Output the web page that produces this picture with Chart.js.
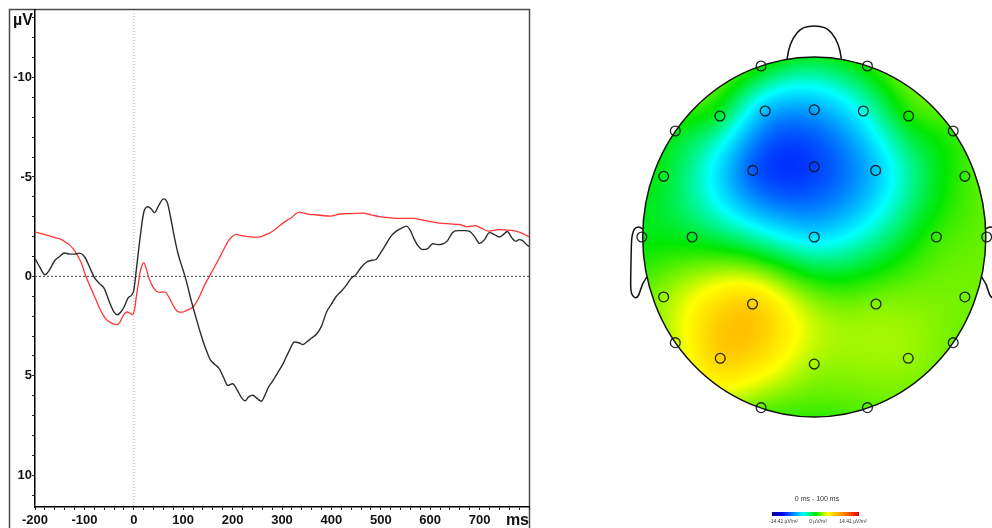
<!DOCTYPE html>
<html>
<head>
<meta charset="utf-8">
<script src="https://cdn.jsdelivr.net/npm/chart.js@4.4.1/dist/chart.umd.min.js"></script>
<style>
  html, body { margin: 0; padding: 0; background: #fff; overflow: hidden; }
  #wrap { position: relative; width: 992px; height: 528px; }
  #erp { position: absolute; left: 0; top: 0; }
  #topo { position: absolute; left: 600px; top: 0; }
</style>
</head>
<body>
<div id="wrap">
  <canvas id="erp" width="545" height="528"></canvas>
  <canvas id="topo" width="392" height="528"></canvas>
</div>
<script>
// ---------- ERP waveforms (time in ms, amplitude in µV, negative plotted up) ----------
const curve1Ms = [-200,-190,-180,-170,-160,-150,-140,-130,-120,-110,-100,-90,-80,-70,-60,-50,-40,-33,-25,-20,-12,-5,0,5,12,20,28,35,42,50,60,68,75,82,90,100,106,115,125,135,145,155,165,172,182,190,200,210,218,225,233,241,250,258,265,272,280,290,302,315,325,335,342,350,360,370,380,390,400,410,420,430,440,450,460,470,480,490,500,510,520,530,540,552,560,567,575,585,595,605,615,625,635,645,655,670,680,690,700,710,720,730,740,748,756,765,773,780,787,795,800];
const curve1Uv = [-0.9,-0.45,-0.08,-0.35,-0.8,-1.0,-1.18,-1.12,-1.12,-1.17,-1.0,-0.5,0.05,0.35,0.6,1.25,1.8,1.93,1.75,1.55,1.1,0.95,0.7,-0.3,-1.8,-3.2,-3.5,-3.4,-3.2,-3.55,-3.9,-3.7,-2.9,-2.0,-1.1,-0.3,0.2,1.1,2.0,2.85,3.6,4.2,4.45,4.6,5.1,5.48,5.4,5.75,6.1,6.26,6.05,5.98,6.15,6.28,6.0,5.6,5.3,4.9,4.4,3.72,3.3,3.35,3.43,3.3,3.1,2.9,2.5,1.8,1.4,1.0,0.75,0.45,0.1,-0.1,-0.45,-0.7,-0.8,-0.85,-1.2,-1.6,-2.0,-2.25,-2.4,-2.53,-2.3,-1.9,-1.55,-1.35,-1.4,-1.64,-1.6,-1.63,-1.8,-2.2,-2.3,-2.3,-2.26,-2.0,-1.66,-1.85,-2.2,-2.1,-1.98,-2.1,-2.26,-1.95,-1.76,-1.85,-1.8,-1.6,-1.5];

const curve2Ms = [-200,-180,-160,-149,-140,-129,-120,-112,-105,-99,-92,-85,-77,-69,-62,-55,-45,-34,-28,-23,-18,-13,-8,-3,2,5,9,12,16,20,24,29,34,39,46,53,60,64,70,76,83,90,98,106,113,120,128,137,145,154,164,174,182,190,198,207,217,228,240,251,263,275,288,302,310,319,328,335,345,355,369,385,399,410,423,440,463,480,497,515,537,555,568,580,591,605,618,640,659,675,692,705,719,739,755,766,780,790,800];
const curve2Uv = [-2.23,-2.1,-1.95,-1.89,-1.75,-1.56,-1.3,-0.97,-0.6,-0.13,0.3,0.7,1.15,1.62,1.95,2.18,2.35,2.43,2.3,2.04,1.85,1.79,1.85,1.93,1.6,1.04,0.4,-0.13,-0.5,-0.69,-0.5,-0.05,0.3,0.54,0.75,0.8,0.78,0.8,1.0,1.29,1.6,1.79,1.8,1.72,1.65,1.54,1.25,0.79,0.35,-0.05,-0.5,-0.97,-1.35,-1.72,-1.98,-2.11,-2.05,-2.01,-1.98,-1.98,-2.05,-2.18,-2.4,-2.68,-2.82,-2.95,-3.15,-3.23,-3.18,-3.12,-3.1,-3.05,-3.03,-3.1,-3.15,-3.16,-3.18,-3.1,-3.01,-2.96,-2.92,-2.92,-2.92,-2.85,-2.8,-2.74,-2.68,-2.64,-2.61,-2.5,-2.55,-2.4,-2.28,-2.35,-2.33,-2.31,-2.23,-2.12,-2.0];

const timeRange = [-200, 800];
const ampRange = [-13.4, 11.6];
const xTickLabels = [-200, -100, 0, 100, 200, 300, 400, 500, 600, 700];
const yTickLabels = [-10, -5, 0, 5, 10];
const ampUnit = 'µV';
const timeUnit = 'ms';

// ---------- Scalp map: electrode positions on the unit head disc and their values ----------
const electrodeNames = ['Fp1','Fp2','F7','F3','Fz','F4','F8','F9','F10','FT7','FC3','FCz','FC4','FT8','T9','C3','Cz','C4','T10','TP7','CP3','CP4','TP8','P9','P10','P7','Pz','P8','O1','O2'];
const electrodeX = [-0.31,0.31,-0.55,-0.286,0,0.286,0.55,-0.81,0.81,-0.878,-0.358,0,0.358,0.878,-1.005,-0.712,0,0.712,1.005,-0.878,-0.36,0.36,0.878,-0.81,0.81,-0.548,0,0.548,-0.31,0.31];
const electrodeY = [0.95,0.95,0.672,0.70,0.707,0.70,0.672,0.589,0.589,0.337,0.37,0.39,0.37,0.337,0,0,0,0,0,-0.333,-0.372,-0.372,-0.333,-0.587,-0.587,-0.674,-0.706,-0.674,-0.948,-0.948];
const electrodeValues = [0.2,0.4,-1.0,-5.8,-6.4,-3.6,0.2,-0.2,0.8,-0.6,-8.4,-9.2,-5.6,0.9,-0.2,-0.6,-4.8,0.8,1.6,2.4,6.0,2.0,1.8,3.2,1.8,6.0,2.6,2.4,1.6,1.4];
const mapWindow = '0 ms - 100 ms';
const mapRange = 14.41;
const mapUnit = 'µV/m²';

// ---------- ERP chart ----------
const FONT = '"Liberation Sans", Arial, sans-serif';

const erpDecor = {
  id: 'erpDecor',
  beforeDraw(chart) {
    const ctx = chart.ctx;
    ctx.save();
    ctx.fillStyle = '#fff';
    ctx.fillRect(0, 0, chart.width, chart.height);
    ctx.strokeStyle = '#4a4a4a';
    ctx.lineWidth = 1.5;
    ctx.strokeRect(9.5, 9.5, 520, 540);
    ctx.restore();
  },
  afterDraw(chart) {
    const ctx = chart.ctx;
    ctx.save();
    ctx.fillStyle = '#111';
    ctx.font = 'bold 16px ' + FONT;
    ctx.textBaseline = 'middle';
    ctx.textAlign = 'right';
    ctx.fillText(ampUnit, 33, 21);
    ctx.fillText(timeUnit, 529, 521);
    ctx.restore();
  }
};

const toPoints = (xs, ys) => xs.map((x, i) => ({ x: x, y: ys[i] }));
const wholeTicks = (lo, hi, step) => {
  const out = [];
  for (let v = Math.ceil(lo / step) * step; v <= hi; v += step) out.push({ value: v });
  return out;
};

new Chart(document.getElementById('erp'), {
  type: 'line',
  data: {
    datasets: [
      {
        data: toPoints(curve1Ms, curve1Uv),
        borderColor: '#2d2d2d', borderWidth: 1.4,
        pointRadius: 0, cubicInterpolationMode: 'monotone', order: 1
      },
      {
        data: toPoints(curve2Ms, curve2Uv),
        borderColor: '#ff3535', borderWidth: 1.3,
        pointRadius: 0, cubicInterpolationMode: 'monotone', order: 2
      },
      {
        data: [{ x: timeRange[0], y: 0 }, { x: timeRange[1], y: 0 }],
        borderColor: '#444', borderWidth: 1, borderDash: [2, 2],
        pointRadius: 0, tension: 0, order: 3
      },
      {
        data: [{ x: 0, y: ampRange[0] }, { x: 0, y: ampRange[1] }],
        borderColor: '#b0b0b0', borderWidth: 1, borderDash: [1, 2],
        pointRadius: 0, tension: 0, order: 4
      }
    ]
  },
  options: {
    responsive: false,
    animation: false,
    events: [],
    layout: { padding: { left: 0, top: 10, right: 16, bottom: 0 } },
    plugins: { legend: { display: false }, tooltip: { enabled: false } },
    scales: {
      x: {
        type: 'linear',
        min: timeRange[0], max: timeRange[1],
        afterFit(s) { s.height = 21; },
        afterBuildTicks(s) { s.ticks = wholeTicks(timeRange[0], timeRange[1], 20); },
        border: { display: true, color: '#000', width: 1.5 },
        grid: { drawOnChartArea: false, drawTicks: true, tickLength: 3, tickColor: '#222' },
        ticks: {
          autoSkip: false, maxRotation: 0,
          padding: 3, color: '#111', font: { family: FONT, size: 13, weight: 'bold' },
          callback: (v) => xTickLabels.includes(Math.round(v)) ? String(Math.round(v)) : ''
        }
      },
      y: {
        type: 'linear',
        reverse: true,
        min: ampRange[0], max: ampRange[1],
        afterFit(s) { s.width = 35; },
        afterBuildTicks(s) { s.ticks = wholeTicks(ampRange[0], ampRange[1], 1); },
        border: { display: true, color: '#000', width: 1.5 },
        grid: { drawOnChartArea: false, drawTicks: true, tickLength: 3, tickColor: '#222' },
        ticks: {
          autoSkip: false,
          padding: 0, color: '#111', font: { family: FONT, size: 13, weight: 'bold' },
          callback: (v) => yTickLabels.includes(Math.round(v)) ? String(Math.round(v)) : ''
        }
      }
    }
  },
  plugins: [erpDecor]
});

// ---------- Scalp map ----------
// thin-plate spline through the electrode values
function buildSpline(xs, ys, vs) {
  const n = xs.length, N = n + 3;
  const A = [];
  const phi = (r) => (r > 1e-12 ? r * r * Math.log(r) : 0);
  for (let i = 0; i < N; i++) A.push(new Float64Array(N + 1));
  for (let i = 0; i < n; i++) {
    for (let j = 0; j < n; j++) {
      A[i][j] = phi(Math.hypot(xs[i] - xs[j], ys[i] - ys[j]));
    }
    A[i][n] = 1; A[i][n + 1] = xs[i]; A[i][n + 2] = ys[i];
    A[n][i] = 1; A[n + 1][i] = xs[i]; A[n + 2][i] = ys[i];
    A[i][N] = vs[i];
  }
  for (let c = 0; c < N; c++) {
    let p = c;
    for (let r = c + 1; r < N; r++) if (Math.abs(A[r][c]) > Math.abs(A[p][c])) p = r;
    const t = A[c]; A[c] = A[p]; A[p] = t;
    for (let r = 0; r < N; r++) {
      if (r === c) continue;
      const f = A[r][c] / A[c][c];
      if (f === 0) continue;
      for (let k = c; k <= N; k++) A[r][k] -= f * A[c][k];
    }
  }
  const w = new Float64Array(N);
  for (let i = 0; i < N; i++) w[i] = A[i][N] / A[i][i];
  return (u, v) => {
    let s = w[n] + w[n + 1] * u + w[n + 2] * v;
    for (let i = 0; i < n; i++) s += w[i] * phi(Math.hypot(u - xs[i], v - ys[i]));
    return s;
  };
}

const cmapStops = [
  [0.00, [0, 0, 140]],
  [0.12, [0, 0, 255]],
  [0.36, [0, 255, 255]],
  [0.50, [0, 232, 0]],
  [0.64, [255, 255, 0]],
  [0.80, [255, 150, 0]],
  [1.00, [230, 0, 0]]
];
function colorAt(t) {
  t = Math.max(0, Math.min(1, t));
  for (let i = 1; i < cmapStops.length; i++) {
    const [t1, c1] = cmapStops[i];
    if (t <= t1) {
      const [t0, c0] = cmapStops[i - 1];
      const f = (t - t0) / (t1 - t0);
      return [c0[0] + (c1[0] - c0[0]) * f, c0[1] + (c1[1] - c0[1]) * f, c0[2] + (c1[2] - c0[2]) * f];
    }
  }
  return cmapStops[cmapStops.length - 1][1];
}

const spline = buildSpline(electrodeX, electrodeY, electrodeValues);

const topoPlugin = {
  id: 'topoMap',
  beforeDatasetsDraw(chart) {
    const { ctx, chartArea: a, scales: { x, y } } = chart;
    const cx = x.getPixelForValue(0), cy = y.getPixelForValue(0);
    const rx = x.getPixelForValue(1) - cx, ry = cy - y.getPixelForValue(1);

    // interpolated potential field
    const x0 = Math.floor(a.left), y0 = Math.floor(a.top);
    const w = Math.ceil(a.right) - x0 + 1, h = Math.ceil(a.bottom) - y0 + 1;
    const off = document.createElement('canvas');
    off.width = w; off.height = h;
    const octx = off.getContext('2d');
    const img = octx.createImageData(w, h);
    for (let j = 0; j < h; j++) {
      const v = y.getValueForPixel(y0 + j + 0.5);
      for (let i = 0; i < w; i++) {
        const u = x.getValueForPixel(x0 + i + 0.5);
        if (u * u + v * v > 1.03) continue;
        const val = spline(u, v);
        const c = colorAt((val / mapRange + 1) / 2);
        const k = (j * w + i) * 4;
        img.data[k] = c[0]; img.data[k + 1] = c[1]; img.data[k + 2] = c[2]; img.data[k + 3] = 255;
      }
    }
    octx.putImageData(img, 0, 0);
    ctx.save();
    ctx.beginPath();
    ctx.ellipse(cx, cy, rx, ry, 0, 0, Math.PI * 2);
    ctx.clip();
    ctx.drawImage(off, x0, y0);
    ctx.restore();

    // head outline, nose and ears
    const P = (u, v) => [x.getPixelForValue(u), y.getPixelForValue(v)];
    ctx.save();
    ctx.strokeStyle = '#111';
    ctx.lineWidth = 1.5;
    ctx.beginPath();
    ctx.ellipse(cx, cy, rx, ry, 0, 0, Math.PI * 2);
    ctx.stroke();

    const curve = (pts) => {
      ctx.beginPath();
      ctx.moveTo(...P(...pts[0]));
      for (let i = 1; i < pts.length; i += 3) {
        ctx.bezierCurveTo(...P(...pts[i]), ...P(...pts[i + 1]), ...P(...pts[i + 2]));
      }
      ctx.stroke();
    };
    curve([[-0.158, 0.99], [-0.15, 1.06], [-0.13, 1.10], [-0.10, 1.135],
           [-0.06, 1.185], [0.06, 1.185], [0.10, 1.135],
           [0.13, 1.10], [0.15, 1.06], [0.158, 0.99]]);
    for (const s of [-1, 1]) {
      curve([[s * 1.0, 0.045], [s * 1.04, 0.075], [s * 1.065, 0.045], [s * 1.066, -0.05],
             [s * 1.068, -0.12], [s * 1.07, -0.2], [s * 1.07, -0.27],
             [s * 1.07, -0.345], [s * 1.03, -0.36], [s * 1.015, -0.3],
             [s * 1.005, -0.26], [s * 0.99, -0.24], [s * 0.975, -0.22]]);
    }
    ctx.restore();
  },
  afterDraw(chart) {
    const ctx = chart.ctx;
    const cxp = 216;
    ctx.save();
    ctx.fillStyle = '#333';
    ctx.textAlign = 'center';
    ctx.textBaseline = 'middle';
    ctx.font = '7px ' + FONT;
    ctx.fillText(mapWindow, cxp + 1, 499);

    // colour scale bar
    const bx0 = 172, bx1 = 259;
    const g = ctx.createLinearGradient(bx0, 0, bx1, 0);
    for (const [t, c] of cmapStops) g.addColorStop(t, `rgb(${c[0]},${c[1]},${c[2]})`);
    ctx.fillStyle = g;
    ctx.fillRect(bx0, 512, bx1 - bx0, 4);

    ctx.fillStyle = '#333';
    ctx.font = '5px ' + FONT;
    ctx.fillText('-' + mapRange.toFixed(2) + ' ' + mapUnit, 183.5, 522);
    ctx.fillText('0 ' + mapUnit, 218, 522);
    ctx.fillText(mapRange.toFixed(2) + ' ' + mapUnit, 253, 522);
    ctx.restore();
  }
};

new Chart(document.getElementById('topo'), {
  type: 'scatter',
  data: {
    labels: electrodeNames,
    datasets: [{
      data: electrodeX.map((ex, i) => ({ x: ex, y: electrodeY[i] })),
      pointRadius: 4.9,
      pointBorderWidth: 1.3,
      pointBorderColor: 'rgba(15,15,15,0.9)',
      pointBackgroundColor: 'rgba(0,0,0,0)',
      clip: false
    }]
  },
  options: {
    responsive: false,
    animation: false,
    events: [],
    layout: { padding: { left: 42.7, right: 3.3, top: 57, bottom: 111 } },
    plugins: { legend: { display: false }, tooltip: { enabled: false } },
    scales: {
      x: { type: 'linear', min: -1, max: 1, display: false },
      y: { type: 'linear', min: -1, max: 1, display: false }
    }
  },
  plugins: [topoPlugin]
});
</script>
</body>
</html>
